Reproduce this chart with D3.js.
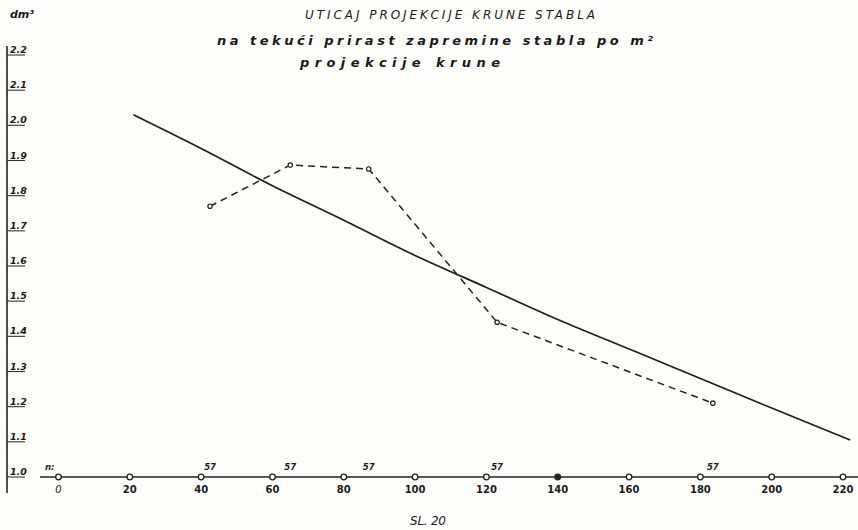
<!DOCTYPE html>
<html>
<head>
<meta charset="utf-8">
<script src="https://cdn.jsdelivr.net/npm/d3@7"></script>
<style>
  body { margin: 0; background: #fdfdfa; }
  svg { display: block; }
  text { fill: #1a1a1a; font-family: "DejaVu Sans", sans-serif; font-style: italic; }
</style>
</head>
<body>
<svg id="chart"></svg>
<script>
// Crown projection area (m2) ticks on the x axis
const xTicks = [0, 20, 40, 60, 80, 100, 120, 140, 160, 180, 200, 220];
const yTicks = [1.0, 1.1, 1.2, 1.3, 1.4, 1.5, 1.6, 1.7, 1.8, 1.9, 2.0, 2.1, 2.2];

// Measured increment per m2 of crown projection (dashed line)
const obsX = [42.5, 65, 87, 123, 183.5];
const obsY = [1.77, 1.887, 1.876, 1.44, 1.21];
const obsN = ["57", "57", "57", "57", "57"];

// Smoothed curve (solid line)
const fitX = [21, 40, 60, 80, 100, 120, 140, 160, 180, 200, 222];
const fitY = [2.03, 1.934, 1.828, 1.73, 1.63, 1.539, 1.448, 1.364, 1.28, 1.196, 1.105];

const width = 858, height = 530;
const svg = d3.select("#chart").attr("width", width).attr("height", height);

const x = d3.scaleLinear().domain([0, 220]).range([58.5, 843]);
const y = d3.scaleLinear().domain([1.0, 2.2]).range([477, 55]);

// Title, three lines
const titles = [
  {t: "UTICAJ  PROJEKCIJE  KRUNE  STABLA", cx: 450, y: 19, len: 290, size: 12, w: "normal"},
  {t: "na  tekući  prirast  zapremine  stabla  po  m²", cx: 435, y: 45, len: 436, size: 13, w: "bold"},
  {t: "projekcije  krune", cx: 400, y: 67, len: 200, size: 13, w: "bold"}
];
titles.forEach(d => {
  svg.append("text")
    .attr("x", d.cx)
    .attr("y", d.y)
    .attr("text-anchor", "middle")
    .attr("textLength", d.len)
    .attr("lengthAdjust", "spacing")
    .style("font-size", d.size + "px")
    .style("font-weight", d.w)
    .text(d.t);
});

// Y axis unit
svg.append("text").attr("x", 10).attr("y", 18)
  .style("font-size", "11px").style("font-weight", "bold").text("dm³");

// Y axis: vertical line with underlined labels
svg.append("line")
  .attr("x1", 7).attr("x2", 7).attr("y1", 46).attr("y2", 493)
  .attr("stroke", "#222").attr("stroke-width", 1.6);

const yAxis = svg.append("g");
yTicks.forEach(v => {
  yAxis.append("line")
    .attr("x1", 7).attr("x2", 25).attr("y1", y(v)).attr("y2", y(v))
    .attr("stroke", "#333").attr("stroke-width", 1.1);
  yAxis.append("text")
    .attr("x", 10).attr("y", y(v) - 2)
    .style("font-size", "9.5px").style("font-weight", "bold")
    .text(v.toFixed(1));
});

// X axis line drawn at the 1.0 level
svg.append("line")
  .attr("x1", 40).attr("x2", width).attr("y1", y(1.0)).attr("y2", y(1.0))
  .attr("stroke", "#222").attr("stroke-width", 1.6);

svg.append("g").selectAll("circle")
  .data(xTicks)
  .enter()
  .append("circle")
  .attr("cx", d => x(d))
  .attr("cy", y(1.0))
  .attr("r", 2.8)
  .attr("fill", d => d === 140 ? "#222" : "#fdfdfa")
  .attr("stroke", "#222")
  .attr("stroke-width", 1.3);

svg.append("g").selectAll("text")
  .data(xTicks)
  .enter()
  .append("text")
  .attr("x", d => x(d))
  .attr("y", y(1.0) + 16)
  .attr("text-anchor", "middle")
  .style("font-size", "10px")
  .style("font-weight", d => d === 0 ? "normal" : "bold")
  .style("font-style", d => d === 0 ? "italic" : "normal")
  .text(d => d);

// Number of trees per class
svg.append("text").attr("x", 45).attr("y", y(1.0) - 7)
  .style("font-size", "8.5px").style("font-weight", "bold").text("n:");

svg.append("g").selectAll("text")
  .data(obsX)
  .enter()
  .append("text")
  .attr("x", d => x(d))
  .attr("y", y(1.0) - 7)
  .attr("text-anchor", "middle")
  .style("font-size", "8.5px")
  .style("font-weight", "bold")
  .text((d, i) => obsN[i]);

// Solid smoothed line
const fitData = fitX.map((d, i) => [d, fitY[i]]);
svg.append("path")
  .datum(fitData)
  .attr("fill", "none")
  .attr("stroke", "#1e1e1e")
  .attr("stroke-width", 1.7)
  .attr("d", d3.line().x(d => x(d[0])).y(d => y(d[1])).curve(d3.curveMonotoneX));

// Dashed observed line
const obsData = obsX.map((d, i) => [d, obsY[i]]);
svg.append("path")
  .datum(obsData)
  .attr("fill", "none")
  .attr("stroke", "#222")
  .attr("stroke-width", 1.5)
  .attr("stroke-dasharray", "7,5")
  .attr("d", d3.line().x(d => x(d[0])).y(d => y(d[1])));

svg.append("g").selectAll("circle")
  .data(obsData)
  .enter()
  .append("circle")
  .attr("cx", d => x(d[0]))
  .attr("cy", d => y(d[1]))
  .attr("r", 2.2)
  .attr("fill", "#fdfdfa")
  .attr("stroke", "#222")
  .attr("stroke-width", 1.2);

// Figure number
svg.append("text").attr("x", 428).attr("y", 525)
  .attr("text-anchor", "middle")
  .attr("textLength", 36)
  .attr("lengthAdjust", "spacing")
  .style("font-size", "12px")
  .text("SL. 20");
</script>
</body>
</html>
